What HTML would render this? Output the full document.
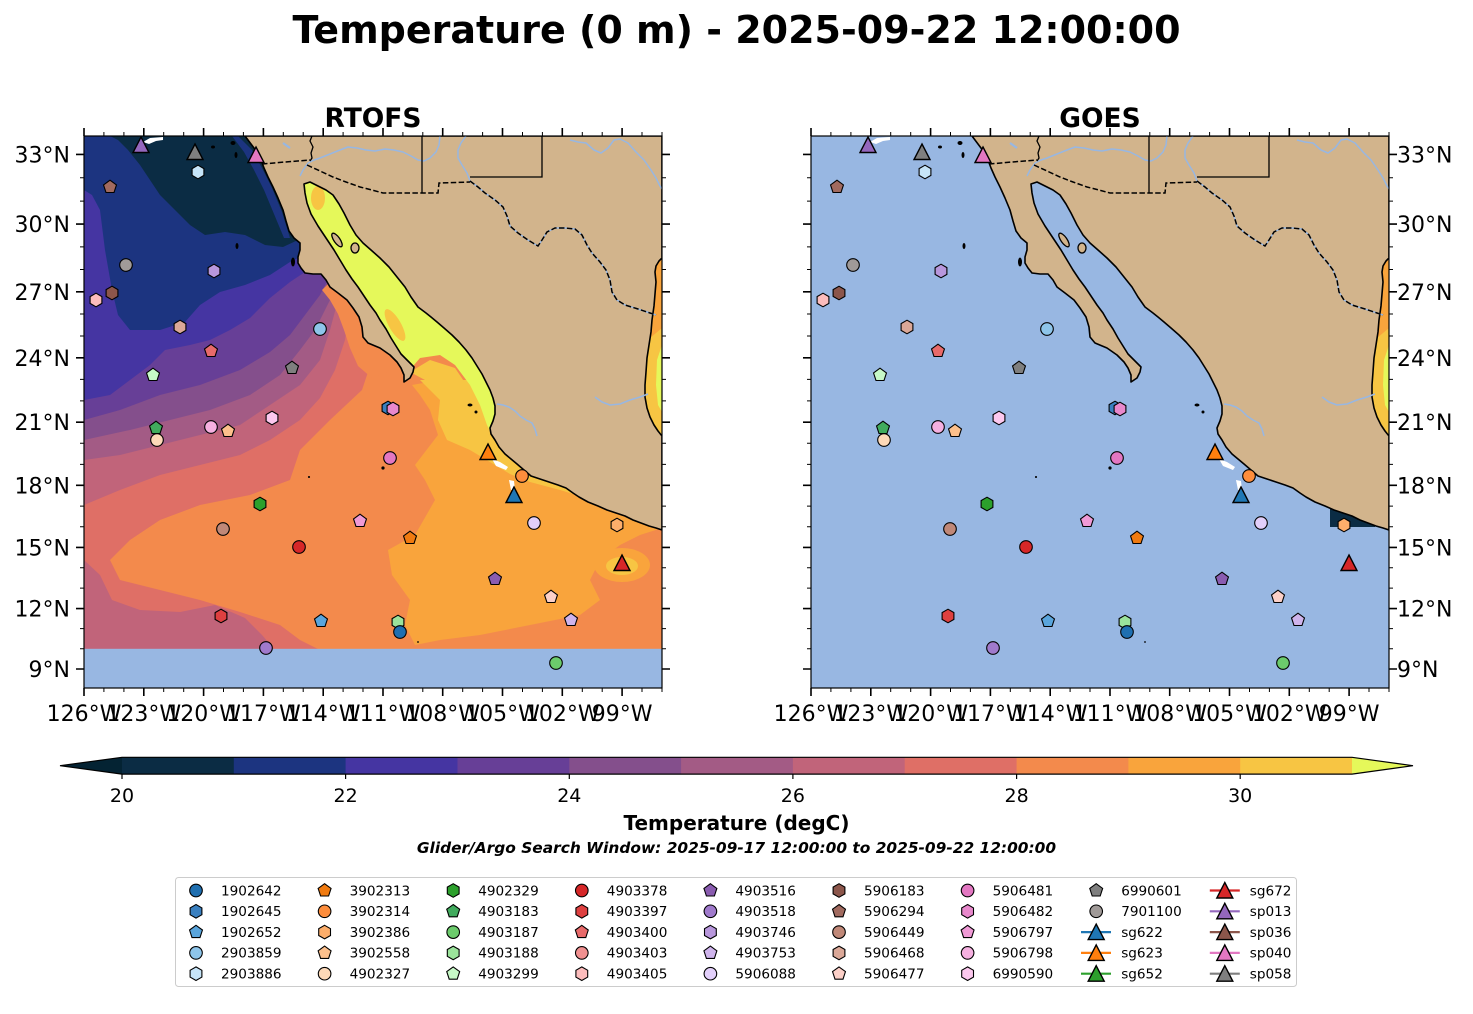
<!DOCTYPE html>
<html><head><meta charset="utf-8"><style>html,body{margin:0;padding:0;background:#fff;overflow:hidden}svg{display:block}</style></head>
<body>
<svg width="1473" height="1014" viewBox="0 0 1473 1014" xmlns="http://www.w3.org/2000/svg" font-family="'DejaVu Sans','Liberation Sans',sans-serif">
<defs>
<clipPath id="cp"><rect x="84" y="136" width="578" height="552"/></clipPath>
<circle id="mc" r="6.3"/>
<polygon id="mh" points="0,-6.8 5.9,-3.4 5.9,3.4 0,6.8 -5.9,3.4 -5.9,-3.4"/>
<polygon id="mp" points="0,-6.8 6.47,-2.1 4,5.5 -4,5.5 -6.47,-2.1"/>
<polygon id="mt" points="0,-8 8,7.5 -8,7.5"/>

<g id="gom">
<rect x="634" y="250" width="28" height="195" fill="#f9a43c"/>
<path fill="#f7c543" d="M662,328 L650,338 L644,360 L643,390 L648,412 L656,430 L662,440 Z"/>
<path fill="#e5f85a" d="M662,345 L657,360 L656,385 L658,405 L662,412 Z"/>
</g>

<g id="land">
<path fill="#d2b48c" stroke="#000" stroke-width="1.6" stroke-linejoin="round" d="M245,136 L251,144 L257,152 L261,160 L264,168 L268,177 L273,187 L278,198 L283,210 L286,221 L289,231 L294,238 L300,243 L300,250 L298,257 L298,263 L301,268 L305,273 L313,274 L321,274 L326,280 L330,287 L338,293 L347,300 L353,308 L359,317 L362,327 L363,337 L368,343 L380,348 L390,355 L397,362 L401,368 L404,375 L404,382 L410,378 L413,372 L414,367 L408,361 L401,354 L396,346 L391,338 L386,329 L380,320 L376,313 L370,305 L364,296 L358,287 L352,279 L346,270 L340,260 L334,250 L326,238 L318,226 L311,214 L307,203 L305,193 L304,184 L310,182 L318,186 L326,190 L333,195 L339,204 L344,213 L350,225 L356,235 L363,243 L371,250 L380,258 L389,267 L397,277 L405,287 L411,297 L418,307 L426,313 L431,317 L437,322 L444,328 L452,335 L459,342 L466,350 L472,358 L477,366 L482,374 L486,382 L490,390 L493,398 L495,406 L495,414 L493,421 L490,428 L491,434 L495,440 L499,447 L505,454 L511,459 L517,464 L524,470 L531,476 L540,479 L549,482 L558,485 L566,488 L573,493 L579,497 L588,502 L598,506 L607,510 L616,513 L625,516 L633,520 L641,523 L649,526 L656,528 L662,530 L662,436 L658,431 L654,425 L650,417 L647,408 L645,397 L645,385 L646,372 L647,358 L649,345 L651,332 L652,320 L654,306 L655,294 L656,282 L655,272 L656,266 L659,261 L662,258 L662,136 Z"/>
<ellipse cx="337" cy="240" rx="3" ry="8" transform="rotate(-35 337 240)" fill="#d2b48c" stroke="#000" stroke-width="1.3"/>
<ellipse cx="355" cy="248" rx="4" ry="5" fill="#d2b48c" stroke="#000" stroke-width="1.3"/>
<g fill="#000">
<ellipse cx="293" cy="262" rx="2" ry="4.5"/>
<ellipse cx="213" cy="147" rx="2" ry="1.5"/>
<ellipse cx="233" cy="143" rx="2.5" ry="2"/>
<ellipse cx="236" cy="155" rx="1.5" ry="3"/>
<ellipse cx="237" cy="246" rx="1.5" ry="3"/>
<ellipse cx="383" cy="468" rx="1.6" ry="1.6"/>
<ellipse cx="309" cy="477" rx="1.1" ry="1"/>
<ellipse cx="470" cy="405" rx="2.5" ry="1.5"/>
<ellipse cx="476" cy="412" rx="1.5" ry="1.5"/>
<circle cx="418" cy="642" r="0.9"/>
</g>
</g>

<g id="lines" fill="none">
<g stroke="#98b7e2" stroke-width="1.5" stroke-linejoin="round">
<path d="M300,176 L303,170 L308,163 L314,160 L320,158 L330,154 L340,150 L348,147 L357,148 L366,150 L375,151 L385,149 L394,150 L403,152 L411,156 L418,160 L424,161 L430,158 L436,152 L439,145 L440,136"/>
<path d="M466,136 L461,143 L458,150 L458,158 L462,165 L467,173 L470,181"/>
<path d="M570,140 L578,142 L586,143 L594,150 L601,153 L608,148 L614,140 L620,139 L628,143 L636,152 L644,160 L651,170 L656,178 L660,186 L662,189"/>
<path d="M497,404 L503,405 L509,407 L515,411 L520,416 L526,420 L532,423 L535,429 L537,436"/>
<path d="M595,397 L602,402 L610,405 L620,404 L630,400 L640,397 L648,394"/>
<path d="M470,181 L478,187 L485,193 L495,200 L503,207 L507,216 L510,226 L518,233 L528,240 L538,246 L542,240 L547,232 L555,228 L565,228 L575,229 L582,235 L587,245 L592,253 L600,262 L606,270 L610,280 L612,292 L617,300 L625,305 L638,309 L650,313 L656,315"/>
<path d="M283,143 L290,148" stroke-width="2.2"/>
</g>
<g stroke="#000" stroke-width="1.5" stroke-dasharray="5.5,2.4">
<path d="M262,164 L285,162 L310,160"/>
<path d="M307,165 L320,171 L333,177 L346,182 L360,187 L372,190 L383,193 L410,193 L438,193 L439,183 L470,182"/>
<path d="M470,181 L478,187 L485,193 L495,200 L503,207 L507,216 L510,226 L518,233 L528,240 L538,246 L542,240 L547,232 L555,228 L565,228 L575,229 L582,235 L587,245 L592,253 L600,262 L606,270 L610,280 L612,292 L617,300 L625,305 L638,309 L650,313 L656,315"/>
</g>
<g stroke="#000" stroke-width="1.3">
<path d="M312,136 L310,141 L313,147 L311,153 L312,158 L310,161"/>
<path d="M422,136 L422,193"/>
<path d="M542,136 L542,177 L470,177"/>
</g>
</g>

<g id="whites" fill="#fff">
<path d="M143,142 L150,138 L163,137 L163,140 L156,141 L149,144 Z"/>
<path d="M492,459 L500,462 L508,467 L506,470 L496,466 Z"/>
<path d="M509,480 L514,481 L515,490 L511,490 Z"/>
</g>

<g id="markers" stroke="#000" stroke-width="1.1">
<use href="#mh" x="198" y="172" fill="#c6e4f8"/>
<use href="#mp" x="110" y="187" fill="#a16a5f"/>
<use href="#mc" x="126" y="265" fill="#a09a98"/>
<use href="#mh" x="214" y="271" fill="#b897dc"/>
<use href="#mh" x="112" y="293" fill="#8c564b"/>
<use href="#mh" x="96" y="300" fill="#fcbcbc"/>
<use href="#mh" x="180" y="327" fill="#dba898"/>
<use href="#mc" x="320" y="329" fill="#8ec5ea"/>
<use href="#mp" x="211" y="351" fill="#e86a6a"/>
<use href="#mp" x="292" y="368" fill="#7f7f7f"/>
<use href="#mp" x="153" y="375" fill="#c7f9c7"/>
<use href="#mh" x="388" y="408" fill="#3a80c0"/>
<use href="#mh" x="393" y="409" fill="#e888cc"/>
<use href="#mh" x="272" y="418" fill="#fcc8ee"/>
<use href="#mp" x="156" y="428" fill="#41ab5d"/>
<use href="#mc" x="211" y="427" fill="#f5b0e0"/>
<use href="#mp" x="228" y="431" fill="#fdc08c"/>
<use href="#mc" x="157" y="440" fill="#fdd9b8"/>
<use href="#mc" x="390" y="458" fill="#e377c2"/>
<use href="#mc" x="522" y="476" fill="#fd8d3c"/>
<use href="#mh" x="260" y="504" fill="#2ca02c"/>
<use href="#mc" x="534" y="523" fill="#e2cffa"/>
<use href="#mh" x="617" y="525" fill="#fdae6b"/>
<use href="#mp" x="360" y="521" fill="#f09ad6"/>
<use href="#mc" x="223" y="529" fill="#c08878"/>
<use href="#mp" x="410" y="538" fill="#f07a10"/>
<use href="#mc" x="299" y="547" fill="#d62728"/>
<use href="#mp" x="495" y="579" fill="#8a5cb0"/>
<use href="#mp" x="551" y="597" fill="#fcd0c8"/>
<use href="#mh" x="221" y="616" fill="#de4040"/>
<use href="#mp" x="321" y="621" fill="#5aa5dc"/>
<use href="#mh" x="398" y="622" fill="#9be39b"/>
<use href="#mc" x="400" y="632" fill="#1f6fb0"/>
<use href="#mp" x="571" y="620" fill="#cfb4ec"/>
<use href="#mc" x="266" y="648" fill="#a07acc"/>
<use href="#mc" x="556" y="663" fill="#6ccb6c"/>
<g stroke-width="1.4">
<use href="#mt" x="141" y="145" fill="#9467bd"/>
<use href="#mt" x="195" y="152" fill="#7f7f7f"/>
<use href="#mt" x="256" y="155" fill="#e377c2"/>
<use href="#mt" x="488" y="452" fill="#ff7f0e"/>
<use href="#mt" x="514" y="495" fill="#1f77b4"/>
<use href="#mt" x="622" y="563" fill="#d62728"/>
</g>
</g>

<g id="axdeco">
<rect x="84" y="136" width="578" height="552" fill="none" stroke="#000" stroke-width="1.2"/>
<g stroke="#000" fill="none">
<path stroke-width="1.6" d="M84 136v-8M143.8 136v-8M203.6 136v-8M263.4 136v-8M323.2 136v-8M383 136v-8M442.7 136v-8M502.5 136v-8M562.3 136v-8M622.1 136v-8M84 688v8M143.8 688v8M203.6 688v8M263.4 688v8M323.2 688v8M383 688v8M442.7 688v8M502.5 688v8M562.3 688v8M622.1 688v8M84 154.4h-8M84 224.1h-8M84 291.8h-8M84 357.8h-8M84 422.2h-8M84 485.3h-8M84 547.4h-8M84 608.6h-8M84 669h-8M662 154.4h8M662 224.1h8M662 291.8h8M662 357.8h8M662 422.2h8M662 485.3h8M662 547.4h8M662 608.6h8M662 669h8"/>
<path stroke-width="1" d="M103.9 136v-4M123.9 136v-4M163.7 136v-4M183.7 136v-4M223.5 136v-4M243.4 136v-4M283.3 136v-4M303.2 136v-4M343.1 136v-4M363 136v-4M402.9 136v-4M422.8 136v-4M462.7 136v-4M482.6 136v-4M522.5 136v-4M542.4 136v-4M582.3 136v-4M602.2 136v-4M642 136v-4M662 136v-4M103.9 688v4M123.9 688v4M163.7 688v4M183.7 688v4M223.5 688v4M243.4 688v4M283.3 688v4M303.2 688v4M343.1 688v4M363 688v4M402.9 688v4M422.8 688v4M462.7 688v4M482.6 688v4M522.5 688v4M542.4 688v4M582.3 688v4M602.2 688v4M642 688v4M662 688v4M84 177.8h-4M84 201.1h-4M84 246.9h-4M84 269.5h-4M84 314h-4M84 336h-4M84 379.4h-4M84 400.9h-4M84 443.3h-4M84 464.4h-4M84 506.1h-4M84 526.8h-4M84 567.7h-4M84 588.1h-4M84 628.6h-4M84 648.8h-4M662 177.8h4M662 201.1h4M662 246.9h4M662 269.5h4M662 314h4M662 336h4M662 379.4h4M662 400.9h4M662 443.3h4M662 464.4h4M662 506.1h4M662 526.8h4M662 567.7h4M662 588.1h4M662 628.6h4M662 648.8h4"/>
</g>
<g font-size="22" text-anchor="middle" fill="#000">
<text x="84" y="721">126°W</text>
<text x="143.8" y="721">123°W</text>
<text x="203.6" y="721">120°W</text>
<text x="263.4" y="721">117°W</text>
<text x="323.2" y="721">114°W</text>
<text x="383" y="721">111°W</text>
<text x="442.7" y="721">108°W</text>
<text x="502.5" y="721">105°W</text>
<text x="562.3" y="721">102°W</text>
<text x="622.1" y="721">99°W</text>
</g>
</g>
</defs>

<!-- Title -->
<text x="736.5" y="43" font-size="38" font-weight="bold" text-anchor="middle">Temperature (0 m) - 2025-09-22 12:00:00</text>
<text x="373" y="127" font-size="26.5" font-weight="bold" text-anchor="middle">RTOFS</text>
<text x="1100" y="127" font-size="26.5" font-weight="bold" text-anchor="middle">GOES</text>

<!-- LEFT PANEL: RTOFS -->
<g clip-path="url(#cp)">
<rect x="84" y="136" width="578" height="552" fill="#f38a4c"/>
<path fill="#f9a43c" d="M412,385 L440,380 L662,380 L662,528 L640,535 L620,545 L600,560 L590,580 L600,600 L580,615 L530,625 L480,635 L440,640 L415,645 L405,625 L410,600 L392,575 L388,550 L415,535 L435,500 L425,480 L415,465 L438,435 L430,410 L420,395 Z"/>
<ellipse cx="622" cy="565" rx="28" ry="17" fill="#f9a43c"/>
<ellipse cx="622" cy="566" rx="16" ry="9" fill="#f7c543"/>
<path fill="#f7c543" d="M420,380 L440,400 L438,420 L447,440 L470,450 L490,462 L510,474 L530,482 L560,490 L600,502 L640,515 L662,522 L662,380 Z"/>
<path fill="#df6f66" d="M84,136 L662,136 L662,300 L370,300 L368,330 L372,360 L362,390 L330,420 L300,450 L290,480 L250,495 L200,505 L160,520 L130,540 L110,560 L120,580 L160,590 L200,600 L240,612 L280,625 L300,640 L320,650 L84,650 Z"/>
<path fill="#c1647a" d="M84,560 L100,575 L112,600 L140,610 L180,612 L215,605 L245,618 L262,635 L275,650 L84,650 Z"/>
<path fill="#c1647a" d="M84,136 L662,136 L662,290 L355,290 L350,310 L345,340 L335,370 L320,398 L300,420 L270,440 L240,455 L200,465 L160,475 L120,490 L84,505 Z"/>
<path fill="#a35b85" d="M84,136 L662,136 L662,280 L345,280 L338,300 L330,330 L320,360 L300,385 L270,405 L240,425 L200,435 L160,445 L120,455 L84,460 Z"/>
<path fill="#844f8c" d="M84,136 L662,136 L662,275 L338,275 L330,300 L315,330 L300,350 L280,375 L250,395 L210,410 L170,420 L130,430 L84,440 Z"/>
<path fill="#673f97" d="M84,136 L662,136 L662,272 L332,272 L320,295 L305,315 L290,335 L270,352 L240,370 L200,385 L160,395 L120,410 L84,420 Z"/>
<path fill="#4535a2" d="M84,136 L662,136 L662,265 L318,266 L305,272 L290,282 L270,298 L250,318 L230,330 L210,340 L190,345 L165,350 L150,365 L130,380 L110,395 L84,400 Z"/>
<path fill="#1c3480" d="M84,136 L662,136 L662,255 L322,255 L302,256 L290,262 L270,275 L245,285 L220,292 L200,305 L185,322 L160,330 L130,330 L118,315 L112,290 L105,250 L100,210 L92,195 L84,190 Z"/>
<path fill="#0b2c44" d="M110,136 L662,136 L662,240 L298,240 L283,247 L265,245 L245,235 L225,232 L205,235 L190,225 L175,210 L160,195 L150,180 L140,165 L128,150 L118,140 Z"/>
<path fill="#1c3480" d="M238,136 L252,150 L262,168 L272,188 L282,212 L290,238 L284,238 L274,214 L264,190 L254,170 L244,152 L232,136 Z"/>
<path fill="#f38a4c" d="M328,284 L340,293 L350,302 L357,314 L362,328 L366,342 L380,350 L392,358 L388,372 L372,378 L358,366 L350,348 L344,330 L338,314 L330,300 L322,290 Z"/>
<!-- Gulf of California -->
<path fill="#e5f85a" d="M287,182 L293,200 L304,230 L330,260 L330,280 L350,300 L366,320 L378,340 L390,355 L408,372 L420,358 L440,355 L455,365 L470,385 L480,405 L487,425 L492,435 L505,430 L505,400 L495,370 L470,330 L440,290 L410,260 L385,230 L360,195 L340,180 L300,176 Z"/>
<ellipse cx="318" cy="198" rx="7" ry="12" fill="#f7c543"/>
<ellipse cx="395" cy="325" rx="6" ry="18" transform="rotate(-30 395 325)" fill="#f7c543"/>
<ellipse cx="425" cy="300" rx="8" ry="10" fill="#f7c543"/>
<path fill="#f7c543" d="M410,372 L430,360 L455,368 L470,390 L478,410 L470,415 L450,395 L425,380 Z"/>
<rect x="84" y="648.8" width="578" height="40" fill="#98b7e2"/>
<use href="#gom"/>
<use href="#land"/>
<use href="#lines"/>
<use href="#whites"/>
</g>
<use href="#axdeco"/>
<use href="#markers"/>
<g font-size="22" text-anchor="end">
<text x="70" y="162.4">33°N</text>
<text x="70" y="232.1">30°N</text>
<text x="70" y="299.8">27°N</text>
<text x="70" y="365.8">24°N</text>
<text x="70" y="430.2">21°N</text>
<text x="70" y="493.3">18°N</text>
<text x="70" y="555.4">15°N</text>
<text x="70" y="616.6">12°N</text>
<text x="70" y="677">9°N</text>
</g>

<!-- RIGHT PANEL: GOES -->
<g transform="translate(727,0)">
<g clip-path="url(#cp)">
<rect x="84" y="136" width="578" height="552" fill="#98b7e2"/>
<rect x="603" y="505" width="45" height="22" fill="#0b2c44"/>
<use href="#gom"/>
<use href="#land"/>
<use href="#lines"/>
<use href="#whites"/>
</g>
<use href="#axdeco"/>
<use href="#markers"/>
</g>
<g font-size="22" text-anchor="start">
<text x="1397" y="162.4">33°N</text>
<text x="1397" y="232.1">30°N</text>
<text x="1397" y="299.8">27°N</text>
<text x="1397" y="365.8">24°N</text>
<text x="1397" y="430.2">21°N</text>
<text x="1397" y="493.3">18°N</text>
<text x="1397" y="555.4">15°N</text>
<text x="1397" y="616.6">12°N</text>
<text x="1397" y="677">9°N</text>
</g>

<!-- Colorbar -->
<polygon points="60,765.7 122,757.3 122,774.1" fill="#042333"/>
<rect x="122" y="757.3" width="112.3" height="16.8" fill="#0b2c44"/>
<rect x="233.8" y="757.3" width="112.3" height="16.8" fill="#1c3480"/>
<rect x="345.6" y="757.3" width="112.3" height="16.8" fill="#4535a2"/>
<rect x="457.5" y="757.3" width="112.3" height="16.8" fill="#673f97"/>
<rect x="569.3" y="757.3" width="112.3" height="16.8" fill="#844f8c"/>
<rect x="681.1" y="757.3" width="112.3" height="16.8" fill="#a35b85"/>
<rect x="792.9" y="757.3" width="112.3" height="16.8" fill="#c1647a"/>
<rect x="904.7" y="757.3" width="112.3" height="16.8" fill="#df6f66"/>
<rect x="1016.6" y="757.3" width="112.3" height="16.8" fill="#f38a4c"/>
<rect x="1128.4" y="757.3" width="112.3" height="16.8" fill="#f9a43c"/>
<rect x="1240.2" y="757.3" width="111.8" height="16.8" fill="#f7c543"/>
<polygon points="1352,757.3 1413,765.7 1352,774.1" fill="#e5f85a"/>
<polygon points="60,765.7 122,757.3 1352,757.3 1413,765.7 1352,774.1 122,774.1" fill="none" stroke="#000" stroke-width="1.2"/>
<path stroke="#000" stroke-width="1.2" d="M122 774v5M345.6 774v5M569.3 774v5M792.9 774v5M1016.6 774v5M1240.2 774v5"/>
<g font-size="19" text-anchor="middle">
<text x="122" y="802">20</text>
<text x="345.6" y="802">22</text>
<text x="569.3" y="802">24</text>
<text x="792.9" y="802">26</text>
<text x="1016.6" y="802">28</text>
<text x="1240.2" y="802">30</text>
</g>
<text x="736.5" y="830" font-size="20" font-weight="bold" text-anchor="middle">Temperature (degC)</text>
<text x="736.5" y="853" font-size="15.4" font-weight="bold" font-style="italic" text-anchor="middle">Glider/Argo Search Window: 2025-09-17 12:00:00 to 2025-09-22 12:00:00</text>

<!-- Legend -->
<rect x="175.5" y="877.5" width="1121" height="109" rx="3" fill="#fff" stroke="#cccccc" stroke-width="1"/>
<g stroke="#000" stroke-width="1.1">
<use href="#mc" x="196" y="890.5" fill="#1f6fb0"/>
<use href="#mh" x="196" y="911.3" fill="#3a80c0"/>
<use href="#mp" x="196" y="932.1" fill="#5aa5dc"/>
<use href="#mc" x="196" y="952.9" fill="#8ec5ea"/>
<use href="#mh" x="196" y="973.7" fill="#c6e4f8"/>
<use href="#mp" x="324.6" y="890.5" fill="#f07a10"/>
<use href="#mc" x="324.6" y="911.3" fill="#fd8d3c"/>
<use href="#mh" x="324.6" y="932.1" fill="#fdae6b"/>
<use href="#mp" x="324.6" y="952.9" fill="#fdc08c"/>
<use href="#mc" x="324.6" y="973.7" fill="#fdd9b8"/>
<use href="#mh" x="453.2" y="890.5" fill="#2ca02c"/>
<use href="#mp" x="453.2" y="911.3" fill="#41ab5d"/>
<use href="#mc" x="453.2" y="932.1" fill="#6ccb6c"/>
<use href="#mh" x="453.2" y="952.9" fill="#9be39b"/>
<use href="#mp" x="453.2" y="973.7" fill="#c7f9c7"/>
<use href="#mc" x="581.8" y="890.5" fill="#d62728"/>
<use href="#mh" x="581.8" y="911.3" fill="#de4040"/>
<use href="#mp" x="581.8" y="932.1" fill="#e86a6a"/>
<use href="#mc" x="581.8" y="952.9" fill="#f09090"/>
<use href="#mh" x="581.8" y="973.7" fill="#fcbcbc"/>
<use href="#mp" x="710.4" y="890.5" fill="#8a5cb0"/>
<use href="#mc" x="710.4" y="911.3" fill="#a07acc"/>
<use href="#mh" x="710.4" y="932.1" fill="#b897dc"/>
<use href="#mp" x="710.4" y="952.9" fill="#cfb4ec"/>
<use href="#mc" x="710.4" y="973.7" fill="#e2cffa"/>
<use href="#mh" x="839" y="890.5" fill="#8c564b"/>
<use href="#mp" x="839" y="911.3" fill="#a16a5f"/>
<use href="#mc" x="839" y="932.1" fill="#c08878"/>
<use href="#mh" x="839" y="952.9" fill="#dba898"/>
<use href="#mp" x="839" y="973.7" fill="#fcd0c8"/>
<use href="#mc" x="967.6" y="890.5" fill="#e377c2"/>
<use href="#mh" x="967.6" y="911.3" fill="#e888cc"/>
<use href="#mp" x="967.6" y="932.1" fill="#f09ad6"/>
<use href="#mc" x="967.6" y="952.9" fill="#f5b0e0"/>
<use href="#mh" x="967.6" y="973.7" fill="#fcc8ee"/>
<use href="#mp" x="1096.2" y="890.5" fill="#7f7f7f"/>
<use href="#mc" x="1096.2" y="911.3" fill="#a09a98"/>
</g>
<g stroke-width="2.2">
<path stroke="#1f77b4" d="M1081 932.1h30"/>
<path stroke="#ff7f0e" d="M1081 952.9h30"/>
<path stroke="#2ca02c" d="M1081 973.7h30"/>
<path stroke="#d62728" d="M1209.8 890.5h30"/>
<path stroke="#9467bd" d="M1209.8 911.3h30"/>
<path stroke="#8c564b" d="M1209.8 932.1h30"/>
<path stroke="#e377c2" d="M1209.8 952.9h30"/>
<path stroke="#7f7f7f" d="M1209.8 973.7h30"/>
</g>
<g stroke="#000" stroke-width="1.4">
<use href="#mt" x="1096.2" y="932.1" fill="#1f77b4"/>
<use href="#mt" x="1096.2" y="952.9" fill="#ff7f0e"/>
<use href="#mt" x="1096.2" y="973.7" fill="#2ca02c"/>
<use href="#mt" x="1224.8" y="890.5" fill="#d62728"/>
<use href="#mt" x="1224.8" y="911.3" fill="#9467bd"/>
<use href="#mt" x="1224.8" y="932.1" fill="#8c564b"/>
<use href="#mt" x="1224.8" y="952.9" fill="#e377c2"/>
<use href="#mt" x="1224.8" y="973.7" fill="#7f7f7f"/>
</g>
<g font-size="13.6">
<text x="221" y="895.3">1902642</text><text x="221" y="916.1">1902645</text><text x="221" y="936.9">1902652</text><text x="221" y="957.7">2903859</text><text x="221" y="978.5">2903886</text>
<text x="349.6" y="895.3">3902313</text><text x="349.6" y="916.1">3902314</text><text x="349.6" y="936.9">3902386</text><text x="349.6" y="957.7">3902558</text><text x="349.6" y="978.5">4902327</text>
<text x="478.2" y="895.3">4902329</text><text x="478.2" y="916.1">4903183</text><text x="478.2" y="936.9">4903187</text><text x="478.2" y="957.7">4903188</text><text x="478.2" y="978.5">4903299</text>
<text x="606.8" y="895.3">4903378</text><text x="606.8" y="916.1">4903397</text><text x="606.8" y="936.9">4903400</text><text x="606.8" y="957.7">4903403</text><text x="606.8" y="978.5">4903405</text>
<text x="735.4" y="895.3">4903516</text><text x="735.4" y="916.1">4903518</text><text x="735.4" y="936.9">4903746</text><text x="735.4" y="957.7">4903753</text><text x="735.4" y="978.5">5906088</text>
<text x="864" y="895.3">5906183</text><text x="864" y="916.1">5906294</text><text x="864" y="936.9">5906449</text><text x="864" y="957.7">5906468</text><text x="864" y="978.5">5906477</text>
<text x="992.6" y="895.3">5906481</text><text x="992.6" y="916.1">5906482</text><text x="992.6" y="936.9">5906797</text><text x="992.6" y="957.7">5906798</text><text x="992.6" y="978.5">6990590</text>
<text x="1121.2" y="895.3">6990601</text><text x="1121.2" y="916.1">7901100</text><text x="1121.2" y="936.9">sg622</text><text x="1121.2" y="957.7">sg623</text><text x="1121.2" y="978.5">sg652</text>
<text x="1249.8" y="895.3">sg672</text><text x="1249.8" y="916.1">sp013</text><text x="1249.8" y="936.9">sp036</text><text x="1249.8" y="957.7">sp040</text><text x="1249.8" y="978.5">sp058</text>
</g>
</svg>
</body></html>
